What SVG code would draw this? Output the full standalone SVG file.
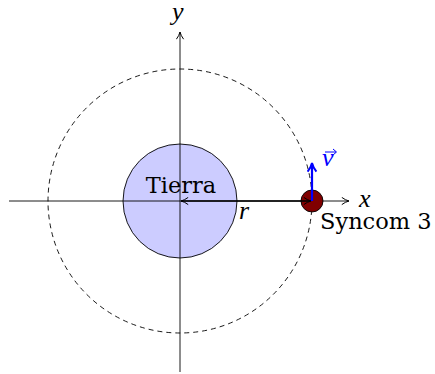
<svg xmlns="http://www.w3.org/2000/svg" width="435" height="374" viewBox="0 0 435 374">
<style>
.t{font-family:"DejaVu Serif","Liberation Serif",serif;font-size:22.5px;fill:#000}
.i{font-family:"Liberation Serif",serif;font-style:italic;font-size:26px}
.ax{stroke:#000;stroke-width:0.9;fill:none}
</style>
<defs>
<marker id="ah" viewBox="0 0 10 10" refX="9" refY="5" markerWidth="9" markerHeight="9" markerUnits="userSpaceOnUse" orient="auto-start-reverse">
<path d="M1,1 Q5,4 9,5 Q5,6 1,9" fill="none" stroke="#000" stroke-width="1.1"/>
</marker>
<marker id="ahb" viewBox="0 0 10 10" refX="8" refY="5" markerWidth="11" markerHeight="11" markerUnits="userSpaceOnUse" orient="auto">
<path d="M1,1 Q5,4 9,5 Q5,6 1,9" fill="none" stroke="#0000ff" stroke-width="1.8"/>
</marker>
</defs>
<g id="orbit"><circle cx="180" cy="201" r="132" fill="none" stroke="#000" stroke-width="0.9" stroke-dasharray="5,4"/></g>
<g id="earth"><circle cx="180" cy="201" r="57" fill="#ccccff" stroke="#000" stroke-width="0.9"/><text class="t" x="181" y="193" text-anchor="middle">Tierra</text></g>
<g id="connectors">
<line class="ax" x1="9" y1="201" x2="349" y2="201" marker-end="url(#ah)"/>
<line class="ax" x1="180" y1="372" x2="180" y2="32" marker-end="url(#ah)"/>
</g>
<g id="satellite"><circle cx="312" cy="201" r="11" fill="#800000" stroke="#000" stroke-width="0.9"/><text class="t" x="320" y="229">Syncom 3</text></g>
<g id="r-vector">
<line x1="181" y1="201" x2="311" y2="201" stroke="#000" stroke-width="1.5" marker-start="url(#ah)" marker-end="url(#ah)"/>
<text class="i" x="239" y="219">r</text>
</g>
<g id="v-vector">
<line x1="312" y1="201" x2="312" y2="164" stroke="#0000ff" stroke-width="2.2" marker-end="url(#ahb)"/>
<text class="i" x="322" y="166" fill="#0000ff">v</text>
<path d="M325,152 H336 M333,149 L336.5,152 L333,155" fill="none" stroke="#0000ff" stroke-width="1"/>
</g>
<text class="i" x="359" y="207">x</text>
<text class="i" x="172" y="20">y</text>
</svg>
